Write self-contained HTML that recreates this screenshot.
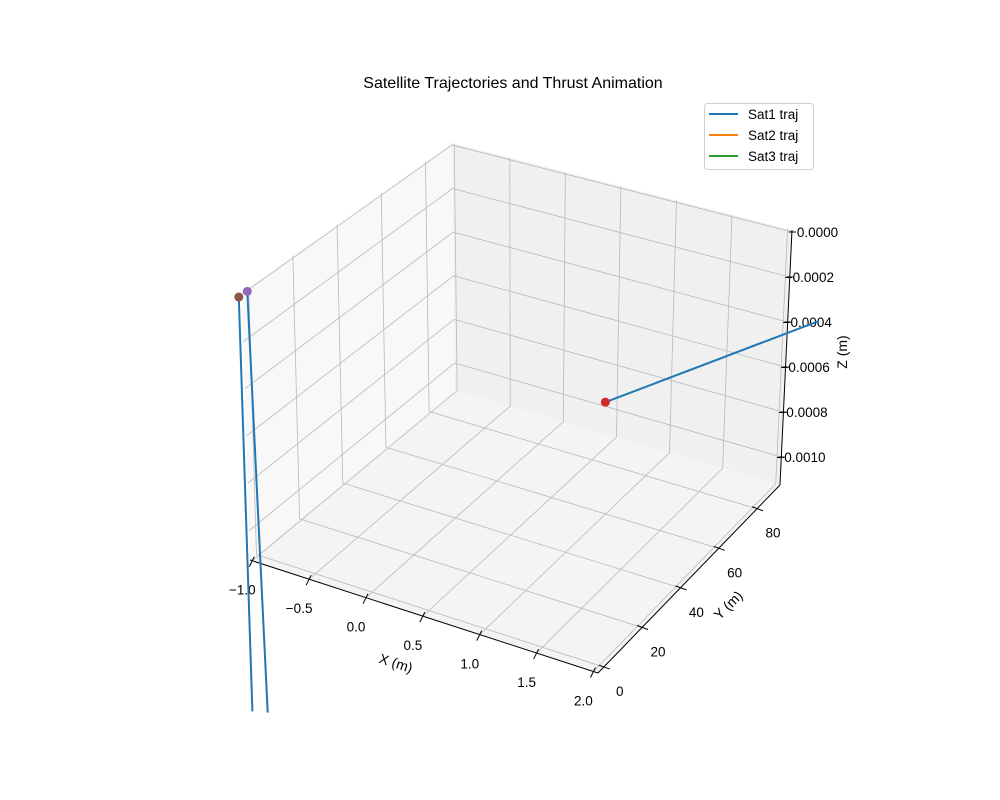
<!DOCTYPE html>
<html><head><meta charset="utf-8"><style>
html,body{margin:0;padding:0;background:#fff;}
svg{display:block;font-family:"Liberation Sans","DejaVu Sans",sans-serif;}
</style></head><body>
<svg id="chart" width="1000" height="800" viewBox="0 0 1000 800" xmlns="http://www.w3.org/2000/svg">
<rect x="0" y="0" width="1000" height="800" fill="#ffffff"/>
<text x="513" y="88" font-size="16" text-anchor="middle" fill="#000">Satellite Trajectories and Thrust Animation</text>
<g id="panes"></g><g id="grid"></g><g id="axes"></g><g id="series"></g>
<text x="396" y="668" font-size="14" text-anchor="middle" transform="rotate(18 396 663)">X (m)</text>
<text x="728" y="610" font-size="14" text-anchor="middle" transform="rotate(-45 728 605)">Y (m)</text>
<text x="842" y="357" font-size="14" text-anchor="middle" transform="rotate(-90 842 352)">Z (m)</text>
<g>
<rect x="704.5" y="103.5" width="109" height="66" rx="3" fill="#fff" fill-opacity="0.8" stroke="#d0d0d0"/>
<line x1="709" y1="114" x2="738" y2="114" stroke="#1f77b4" stroke-width="2"/>
<text x="748" y="119" font-size="13.5">Sat1 traj</text>
<line x1="709" y1="135" x2="738" y2="135" stroke="#ff7f0e" stroke-width="2"/>
<text x="748" y="140" font-size="13.5">Sat2 traj</text>
<line x1="709" y1="156" x2="738" y2="156" stroke="#2ca02c" stroke-width="2"/>
<text x="748" y="161" font-size="13.5">Sat3 traj</text>
</g>
</svg>
<script>
// ---- data ----
const xTicks = [-1.0, -0.5, 0.0, 0.5, 1.0, 1.5, 2.0];
const xTickLabels = ["\u22121.0", "\u22120.5", "0.0", "0.5", "1.0", "1.5", "2.0"];
const yTicks = [0, 20, 40, 60, 80];
const yTickLabels = ["0", "20", "40", "60", "80"];
const zTicks = [0, -0.0002, -0.0004, -0.0006, -0.0008, -0.0010];
const zTickLabels = ["0.0000", "\u22120.0002", "\u22120.0004", "\u22120.0006", "\u22120.0008", "\u22120.0010"];
const sat1X = [0.41, 2.33];
const sat1Y = [91, 91];
const sat1Z = [-0.00097, -0.00035];
const sat2X = [-1.105, -1.10];
const sat2Y = [0, 0];
const sat2Z = [-0.000047, -0.0018];
const sat3X = [-1.07, -1.06];
const sat3Y = [2, 5];
const sat3Z = [-0.00003, -0.00184];
const markerX = [0.41, -1.105, -1.07];
const markerY = [91, 0, 2];
const markerZ = [-0.00097, -0.000047, -0.00003];
const markerColors = ["#d62728", "#8c564b", "#9467bd"];

// ---- projection ----
const XMIN=-1.02, XMAX=2.04, YMIN=-3, YMAX=92, ZMIN=-0.001124, ZMAX=0.0000089;
const C={ '000':[250,560],'100':[598,673],'110':[780,485],'010':[455,390],
          '001':[242,292],'101':[612,417],'111':[792,230],'011':[452,143]};
function P(x,y,z){
  const u=(x-XMIN)/(XMAX-XMIN), v=(y-YMIN)/(YMAX-YMIN), w=(z-ZMIN)/(ZMAX-ZMIN);
  const r=[0,0];
  for(const a of [0,1])for(const b of [0,1])for(const c of [0,1]){
    const wt=(a?u:1-u)*(b?v:1-v)*(c?w:1-w); const p=C[''+a+b+c];
    r[0]+=wt*p[0]; r[1]+=wt*p[1];
  }
  return r;
}
const NS='http://www.w3.org/2000/svg';
function mk(tag,parent,attrs){const e=document.createElementNS(NS,tag);for(const k in attrs)e.setAttribute(k,attrs[k]);document.getElementById(parent).appendChild(e);return e;}
function line(parent,a,b,stroke,sw){return mk('line',parent,{x1:a[0],y1:a[1],x2:b[0],y2:b[1],stroke:stroke,'stroke-width':sw});}
function poly(parent,pts,fill){return mk('polygon',parent,{points:pts.map(p=>p.join(',')).join(' '),fill:fill,stroke:'none'});}

// panes
let e;
e=poly('panes',[P(XMIN,YMIN,ZMIN),P(XMAX,YMIN,ZMIN),P(XMAX,YMAX,ZMIN),P(XMIN,YMAX,ZMIN)],'#f4f4f4');


e=poly('panes',[P(XMIN,YMAX,ZMIN),P(XMAX,YMAX,ZMIN),P(XMAX,YMAX,ZMAX),P(XMIN,YMAX,ZMAX)],'#f0f0f0');


e=poly('panes',[P(XMIN,YMIN,ZMIN),P(XMIN,YMAX,ZMIN),P(XMIN,YMAX,ZMAX),P(XMIN,YMIN,ZMAX)],'#f8f8f8');



// grid
const G='#b9b9b9';
xTicks.forEach(x=>{
  e=line('grid',P(x,YMIN,ZMIN),P(x,YMAX,ZMIN),G,0.8);
  
  
  e=line('grid',P(x,YMAX,ZMIN),P(x,YMAX,ZMAX),G,0.8);
  
  
});
yTicks.forEach(y=>{
  e=line('grid',P(XMIN,y,ZMIN),P(XMAX,y,ZMIN),G,0.8);
  
  
  e=line('grid',P(XMIN,y,ZMIN),P(XMIN,y,ZMAX),G,0.8);
  
  
});
zTicks.forEach(z=>{
  e=line('grid',P(XMIN,YMAX,z),P(XMAX,YMAX,z),G,0.8);
  
  
  e=line('grid',P(XMIN,YMIN,z),P(XMIN,YMAX,z),G,0.8);
  
  
});

// axes lines
e=line('axes',P(XMIN,YMIN,ZMIN),P(XMAX,YMIN,ZMIN),'#000',1);


e=line('axes',P(XMAX,YMIN,ZMIN),P(XMAX,YMAX,ZMIN),'#000',1);


e=line('axes',P(XMAX,YMAX,ZMIN),P(XMAX,YMAX,ZMAX),'#000',1);



function txt(parent,x,y,s,anchor){const t=mk('text',parent,{x:x,y:y,'font-size':13.5,'text-anchor':anchor,fill:'#000'});t.textContent=s;return t;}
xTicks.forEach((x,i)=>{
  const a=P(x,YMIN,ZMIN);
  e=line('axes',[a[0]+2,a[1]-4],[a[0]-3,a[1]+6],'#000',1);
  
  
  e=txt('axes',a[0]-10,a[1]+34,xTickLabels[i],'middle');
  
  
});
yTicks.forEach((y,i)=>{
  const a=P(XMAX,y,ZMIN);
  e=line('axes',[a[0]-5,a[1]-2],[a[0]+6,a[1]+2],'#000',1);
  
  
  e=txt('axes',a[0]+16,a[1]+29,yTickLabels[i],'middle');
  
  
});
zTicks.forEach((z,i)=>{
  const a=P(XMAX,YMAX,z);
  e=line('axes',[a[0]-3,a[1]],[a[0]+4,a[1]],'#000',1);
  
  
  e=txt('axes',i===0?a[0]+5:a[0]-5,a[1]+5,zTickLabels[i],'start');
  
  
});

// series
function path(xs,ys,zs,color,name){
  const d=xs.map((x,i)=>{const p=P(x,ys[i],zs[i]);return (i?'L':'M')+p[0].toFixed(1)+','+p[1].toFixed(1);}).join(' ');
  const el=mk('path','series',{d:d,fill:'none',stroke:color,'stroke-width':2});
  
  
}
path(sat1X,sat1Y,sat1Z,'#1f77b4','sat1-trajectory');
path(sat2X,sat2Y,sat2Z,'#1f77b4','sat2-trajectory');
path(sat3X,sat3Y,sat3Z,'#1f77b4','sat3-trajectory');
markerX.forEach((x,i)=>{
  const p=P(x,markerY[i],markerZ[i]);
  const c=mk('circle','series',{cx:p[0],cy:p[1],r:4.5,fill:markerColors[i]});
  
  
});
</script>
</body></html>
